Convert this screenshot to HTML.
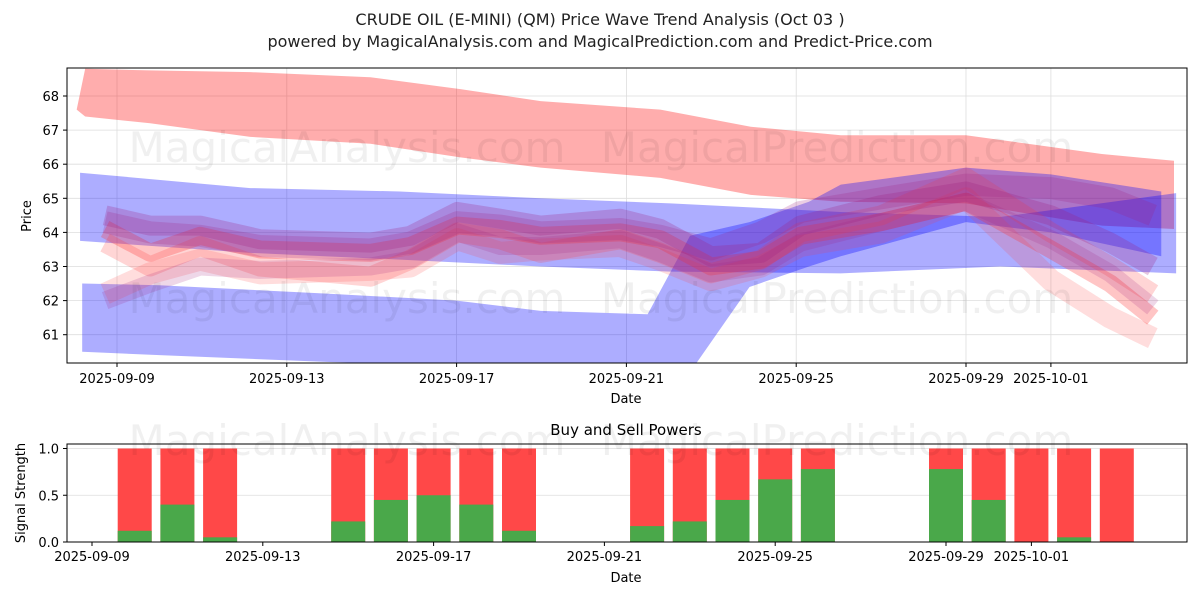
<!DOCTYPE html>
<html><head><meta charset="utf-8">
<style>
body{margin:0;background:#fff;font-family:"Liberation Sans","DejaVu Sans",sans-serif;}
svg text{font-family:"DejaVu Sans","Liberation Sans",sans-serif;}
</style></head>
<body>
<svg id="c" width="1200" height="600" xmlns="http://www.w3.org/2000/svg">
<text x="600" y="25" text-anchor="middle" font-size="16" fill="#222">CRUDE OIL (E-MINI) (QM) Price Wave Trend Analysis (Oct 03 )</text>
<text x="600" y="47" text-anchor="middle" font-size="16" fill="#222">powered by MagicalAnalysis.com and MagicalPrediction.com and Predict-Price.com</text>
<g id="topPanel"></g>
<g id="botPanel"></g>
</svg>
<script>
// ---- data ----
const tickDays=[0,4,8,12,16,20,22];
const tickLabels=["2025-09-09","2025-09-13","2025-09-17","2025-09-21","2025-09-25","2025-09-29","2025-10-01"];
const priceTicks=[61,62,63,64,65,66,67,68];
const redBandDays=[-0.95,-0.75,0.78,3.14,5.97,8.09,9.98,12.8,14.93,17.05,20.0,23.2,24.9];
const redBandUpper=[67.6,68.8,68.75,68.7,68.55,68.2,67.85,67.6,67.1,66.85,66.85,66.3,66.1];
const redBandLower=[67.6,67.4,67.2,66.8,66.6,66.2,65.9,65.6,65.1,64.9,64.85,64.2,64.1];
const blueBandDays=[-0.87,3.14,6.67,9.98,13.04,17.05,20.8,24.95];
const blueBandUpper=[65.75,65.3,65.2,65.0,64.85,64.6,64.45,65.15];
const blueBandLower=[63.75,63.4,63.2,63.0,62.85,62.8,63.0,62.8];
const blue2Days=[-0.82,1.0,5.0,8.0,9.98,12.5,13.5,14.9,16.3,17.05,20.0,22.0,24.6];
const blue2Upper=[62.5,62.45,62.2,62.0,61.7,61.6,63.9,64.3,64.9,65.4,65.9,65.7,65.2];
const blue2Lower=[60.5,60.4,60.2,60.1,60.0,59.9,59.9,62.4,63.0,63.3,64.3,64.0,63.3];
const waveDays=[-0.28,0.78,1.96,3.37,5.97,6.91,8.02,9.03,9.98,11.86,12.8,13.99,15.17,16.1,18.0,20.0,22.0,23.4,24.4];
const waveA=[64.1,63.4,63.9,63.5,63.4,63.6,64.2,64.1,63.9,64.0,63.8,63.0,63.2,63.9,64.3,64.9,63.5,62.5,61.5];
const waveB=[62.2,62.8,63.2,62.8,62.9,63.0,63.8,63.4,63.5,63.6,63.2,62.6,63.0,63.6,64.0,65.0,62.6,61.5,60.9];
const waveC=[63.7,63.0,63.6,63.0,62.7,63.2,64.0,63.8,63.4,63.8,63.4,62.8,63.2,64.0,64.5,65.6,64.0,63.0,62.2];
const waveP=[64.5,64.2,64.2,63.8,63.7,63.9,64.6,64.4,64.2,64.4,64.1,63.3,63.4,64.2,64.8,65.2,64.5,63.7,63.0];
const waveQ=[62.0,62.5,63.0,62.9,63.0,63.2,64.0,63.6,63.6,63.8,63.4,62.8,63.0,63.7,64.3,64.9,63.8,62.8,61.8];
const waveR=[64.3,64.0,63.9,63.6,63.5,63.7,64.3,64.2,64.0,64.1,63.9,63.5,64.0,64.6,65.0,65.4,65.3,65.0,64.5];
const barDays=[1,2,3,6,7,8,9,10,13,14,15,16,17,20,21,22,23,24];
const buyVals=[0.12,0.4,0.05,0.22,0.45,0.5,0.4,0.12,0.17,0.22,0.45,0.67,0.78,0.78,0.45,0.0,0.05,0.0];
const sigTicks=[0,0.5,1.0];
const sigLabels=["0.0","0.5","1.0"];
// ---- axes ----
const NS="http://www.w3.org/2000/svg";
const X=d=>117+d*42.45;
const Y=v=>96+(68-v)*34.1;
const XB=d=>92+d*42.7;
const YB=v=>542-v*93.5;
function mk(p,t,a){const e=document.createElementNS(NS,t);for(const k in a)e.setAttribute(k,a[k]);p.appendChild(e);return e;}
const svgRoot=document.getElementById('c');
const topG=document.getElementById('topPanel'),botG=document.getElementById('botPanel');
const defs=mk(svgRoot,'defs',{});
const cp=mk(defs,'clipPath',{id:'cp'});mk(cp,'rect',{x:67,y:68,width:1120,height:295});
tickDays.forEach(d=>{const l=mk(topG,'line',{x1:X(d),x2:X(d),y1:68,y2:363,stroke:'#ddd','stroke-width':0.8});});
priceTicks.forEach(v=>{const l=mk(topG,'line',{x1:67,x2:1187,y1:Y(v),y2:Y(v),stroke:'#ddd','stroke-width':0.8});});
[[347,162,'MagicalAnalysis.com'],[837,162,'MagicalPrediction.com'],[347,313,'MagicalAnalysis.com'],[837,313,'MagicalPrediction.com'],[347,455,'MagicalAnalysis.com'],[837,455,'MagicalPrediction.com']].forEach(w=>{const t=mk(svgRoot,'text',{x:w[0],y:w[1],'text-anchor':'middle','font-size':42,fill:'#000','fill-opacity':0.06});t.textContent=w[2];});
const g=mk(topG,'g',{'clip-path':'url(#cp)'});
function band(days,up,lo,fill,op,name){let pts=days.map((d,i)=>X(d)+','+Y(up[i]));for(let i=days.length-1;i>=0;i--)pts.push(X(days[i])+','+Y(lo[i]));const p=mk(g,'polygon',{points:pts.join(' '),fill:fill,'fill-opacity':op});}
band(redBandDays,redBandUpper,redBandLower,'#ff0000',0.32,'red-trend-band');
band(blueBandDays,blueBandUpper,blueBandLower,'#0000ff',0.32,'blue-upper-band');
band(blue2Days,blue2Upper,blue2Lower,'#0000ff',0.32,'blue-lower-band');
function wave(vals,col,op,w,name){const p=mk(g,'polyline',{points:waveDays.map((d,i)=>X(d)+','+Y(vals[i])).join(' '),fill:'none',stroke:col,'stroke-opacity':op,'stroke-width':w,'stroke-linejoin':'round'});}
wave(waveB,'#ff4040',0.18,22,'wave-red-low');
wave(waveC,'#ff4040',0.22,20,'wave-red-high');
wave(waveA,'#ff3030',0.28,18,'wave-red-main');
wave(waveQ,'#a02080',0.18,18,'wave-purple-low');
wave(waveP,'#a02080',0.25,20,'wave-purple-high');
wave(waveR,'#a02080',0.22,22,'wave-purple-mid');
let f=mk(topG,'rect',{x:67,y:68,width:1120,height:295,fill:'none',stroke:'#000','stroke-width':1});
tickDays.forEach((d,i)=>{mk(topG,'line',{x1:X(d),x2:X(d),y1:363,y2:367,stroke:'#000'});const t=mk(topG,'text',{x:X(d),y:383,'text-anchor':'middle','font-size':13,fill:'#000'});t.textContent=tickLabels[i];});
priceTicks.forEach(v=>{mk(topG,'line',{x1:63,x2:67,y1:Y(v),y2:Y(v),stroke:'#000'});const t=mk(topG,'text',{x:59,y:Y(v)+5,'text-anchor':'end','font-size':13,fill:'#000'});t.textContent=v;});
let t=mk(topG,'text',{x:626,y:403,'text-anchor':'middle','font-size':13});t.textContent='Date';
t=mk(topG,'text',{x:31,y:216,'text-anchor':'middle','font-size':13,transform:'rotate(-90 31 216)'});t.textContent='Price';
sigTicks.forEach(v=>{mk(botG,'line',{x1:67,x2:1187,y1:YB(v),y2:YB(v),stroke:'#ddd','stroke-width':0.8});});
barDays.forEach((d,i)=>{const r=mk(botG,'rect',{x:XB(d)-17,y:YB(1),width:34,height:YB(0)-YB(1),fill:'#ff4848'});
const b=mk(botG,'rect',{x:XB(d)-17,y:YB(buyVals[i]),width:34,height:YB(0)-YB(buyVals[i]),fill:'#4aa84a'});});
f=mk(botG,'rect',{x:67,y:444,width:1120,height:98,fill:'none',stroke:'#000'});
tickDays.forEach((d,i)=>{mk(botG,'line',{x1:XB(d),x2:XB(d),y1:542,y2:546,stroke:'#000'});const t=mk(botG,'text',{x:XB(d),y:561,'text-anchor':'middle','font-size':13});t.textContent=tickLabels[i];});
sigTicks.forEach((v,i)=>{mk(botG,'line',{x1:63,x2:67,y1:YB(v),y2:YB(v),stroke:'#000'});const t=mk(botG,'text',{x:59,y:YB(v)+5,'text-anchor':'end','font-size':13});t.textContent=sigLabels[i];});
t=mk(botG,'text',{x:626,y:435,'text-anchor':'middle','font-size':15});t.textContent='Buy and Sell Powers';
t=mk(botG,'text',{x:626,y:582,'text-anchor':'middle','font-size':13});t.textContent='Date';
t=mk(botG,'text',{x:25,y:493,'text-anchor':'middle','font-size':13,transform:'rotate(-90 25 493)'});t.textContent='Signal Strength';
</script>
</body></html>
